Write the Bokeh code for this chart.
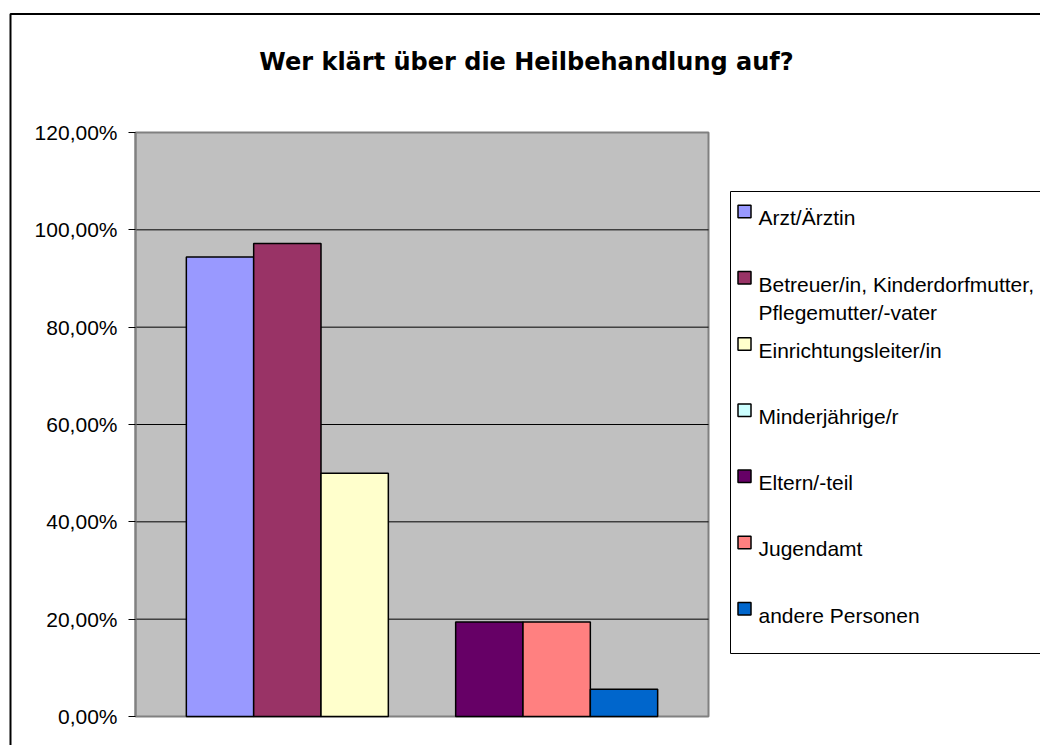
from bokeh.plotting import figure
from bokeh.models import (Range1d, FixedTicker, LinearAxis, ColumnDataSource,
                          CDSView, BooleanFilter)
from bokeh.core.properties import value
from bokeh.embed import file_html
from bokeh.resources import INLINE

# ---------------- data ----------------
title_text = "Wer klärt über die Heilbehandlung auf?"
series = ["Arzt/Ärztin",
          "Betreuer/in, Kinderdorfmutter, Pflegemutter/-vater",
          "Einrichtungsleiter/in",
          "Minderjährige/r",
          "Eltern/-teil",
          "Jugendamt",
          "andere Personen"]
legend_lines = [["Arzt/Ärztin"],
                ["Betreuer/in, Kinderdorfmutter,", "Pflegemutter/-vater"],
                ["Einrichtungsleiter/in"],
                ["Minderjährige/r"],
                ["Eltern/-teil"],
                ["Jugendamt"],
                ["andere Personen"]]
values = [94.4, 97.2, 50.0, 0.0, 19.4, 19.4, 5.6]   # percent
colors = ["#9999FF", "#993366", "#FFFFCC", "#CCFFFF", "#660066", "#FF8080", "#0066CC"]
y_ticks = [0, 20, 40, 60, 80, 100, 120]
y_tick_labels = ["0,00%", "20,00%", "40,00%", "60,00%", "80,00%", "100,00%", "120,00%"]

# ---------------- layout (canvas pixels) ----------------
W, H = 1040, 745
PL, PR, PT, PB = 135, 708, 132, 716      # plot area
n = len(series)
pad = 0.755                              # gap beside the bar group, in bar widths

k = (PB - PT) / (y_ticks[-1] - y_ticks[0])           # px per percent
y_range = Range1d(start=y_ticks[0] - (H - PB) / k, end=y_ticks[-1] + PT / k)

ppu = (PR - PL) / (n + 2 * pad)                       # px per bar slot
bar_start = (-0.5 - pad) - PL / ppu

p = figure(width=W, height=H, output_backend="svg", toolbar_location=None,
           title=None, x_axis_location=None, y_axis_location=None,
           x_range=Range1d(0, W), y_range=y_range,
           min_border=0, min_border_left=0, min_border_right=0,
           min_border_top=0, min_border_bottom=0)
p.extra_x_ranges = {"bars": Range1d(bar_start, bar_start + W / ppu)}
p.extra_y_ranges = {"px": Range1d(H, 0)}
p.background_fill_color = "white"
p.border_fill_color = "white"
p.outline_line_color = None
p.grid.visible = False

# outer chart border
p.quad(left=[10], right=[W + 50], top=[13.5], bottom=[H + 50], y_range_name="px",
       fill_color=None, line_color="black", line_width=2)

# plot area
p.quad(left=[PL], right=[PR], top=[y_ticks[-1]], bottom=[y_ticks[0]],
       fill_color="#C0C0C0", line_color="#808080", line_width=2)

# gridlines
grid_vals = y_ticks[1:-1]
p.segment(x0=[PL] * len(grid_vals), x1=[PR] * len(grid_vals), y0=grid_vals, y1=grid_vals,
          line_color="black", line_width=1)

# y axis
yax = LinearAxis(fixed_location=PL, bounds=(y_ticks[0], y_ticks[-1]))
yax.ticker = FixedTicker(ticks=y_ticks)
yax.major_label_overrides = {t: l for t, l in zip(y_ticks, y_tick_labels)}
yax.major_label_text_font = "Liberation Sans"
yax.major_label_text_font_size = "21px"
yax.major_label_text_color = "black"
yax.major_tick_out = 7
yax.major_tick_in = 0
yax.major_tick_line_color = "black"
yax.minor_tick_line_color = None
yax.axis_line_color = "#808080"
yax.axis_line_width = 2
yax.major_label_standoff = 11
p.add_layout(yax, "left")

# bars
src = ColumnDataSource(dict(x=list(range(n)), top=values, color=colors, name=series))
view = CDSView(filter=BooleanFilter([v > 0 for v in values]))
p.vbar(x="x", top="top", bottom=0, width=1.0, fill_color="color",
       line_color="black", line_width=1.5, source=src, view=view, x_range_name="bars")

# title
p.text(x=[526], y=[61.5], y_range_name="px", text=[title_text],
       text_align="center", text_baseline="alphabetic",
       text_font=value("DejaVu Sans"), text_font_style="bold",
       text_font_size=value("24px"), text_color="black")

# legend box
p.quad(left=[730], right=[W + 50], top=[191], bottom=[653], y_range_name="px",
       fill_color="white", line_color="black", line_width=1)

first_base = 217.3
step = 66.2
line_h = 28
sq_l, sq_r, sq_h = 737.5, 750.5, 12.5
txt_x = 758
lg_base = [first_base + step * i for i in range(n)]
p.quad(left=[sq_l] * n, right=[sq_r] * n, top=[b - sq_h for b in lg_base], bottom=lg_base,
       fill_color=colors, line_color="black", line_width=1.5, y_range_name="px")
tx, ty, tt = [], [], []
for b, lines in zip(lg_base, legend_lines):
    for j, t in enumerate(lines):
        tx.append(txt_x)
        ty.append(b + j * line_h)
        tt.append(t)
p.text(x=tx, y=ty, text=tt, y_range_name="px", text_align="left",
       text_baseline="alphabetic", text_font=value("Liberation Sans"),
       text_font_size=value("21px"), text_color="black")

open("out.html", "w").write(file_html(p, INLINE))
